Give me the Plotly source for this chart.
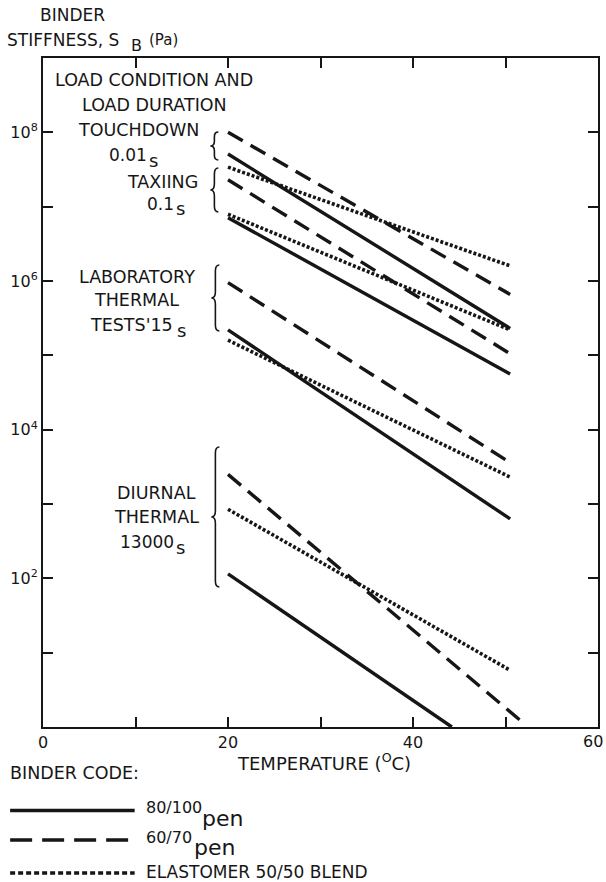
import plotly.graph_objects as go

# ---------------- data ----------------
load_cases = ["TOUCHDOWN 0.01 s", "TAXIING 0.1 s",
              "LABORATORY THERMAL TESTS 15 s", "DIURNAL THERMAL 13000 s"]
temp_start = 20.0

# 80/100 pen (solid)
pen80_temp_end = [50.5, 50.5, 50.5, 44.2]
pen80_sb_start = [5.1e7, 7.1e6, 2.2e5, 115.0]
pen80_sb_end = [2.3e5, 5.6e4, 630.0, 1.0]

# 60/70 pen (dashed)
pen60_temp_end = [50.5, 50.5, 50.5, 51.7]
pen60_sb_start = [1.0e8, 2.3e7, 9.5e5, 2.5e3]
pen60_sb_end = [6.6e5, 1.05e5, 3.6e3, 1.2]

# Elastomer 50/50 blend (dotted)
elast_temp_end = [50.5, 50.5, 50.5, 50.5]
elast_sb_start = [3.4e7, 7.9e6, 1.6e5, 850.0]
elast_sb_end = [1.6e6, 2.2e5, 2.3e3, 5.8]

x_tick_vals = [0, 10, 20, 30, 40, 50, 60]
x_tick_text = ["0", "", "20", "", "40", "", ""]
y_tick_vals = [1e1, 1e2, 1e3, 1e4, 1e5, 1e6, 1e7, 1e8]
y_tick_text = ["", "10<sup>2</sup>", "", "10<sup>4</sup>", "",
               "10<sup>6</sup>", "", "10<sup>8</sup>"]

# ---------------- layout geometry ----------------
W, H = 606, 882
PL, PR, PT, PB = 43, 600, 58, 727
FONT = "DejaVu Sans"
INK = "#161616"


def X(p):
    return (p - PL) / (PR - PL)


def Y(p):
    return (PB - p) / (PB - PT)


fig = go.Figure()

styles = [
    ("80/100 pen", pen80_temp_end, pen80_sb_start, pen80_sb_end, "solid", 3.4),
    ("60/70 pen", pen60_temp_end, pen60_sb_start, pen60_sb_end, "17px,9px", 3.4),
    ("ELASTOMER 50/50 BLEND", elast_temp_end, elast_sb_start, elast_sb_end, "3px,2px", 3.6),
]
for name, tend, s0, s1, dash, w in styles:
    for i, case in enumerate(load_cases):
        fig.add_trace(go.Scatter(
            x=[temp_start, tend[i]], y=[s0[i], s1[i]],
            mode="lines", name=f"{name} – {case}", showlegend=False,
            line=dict(color=INK, width=w, dash=dash),
            hoverinfo="skip"))

fig.update_xaxes(range=[0, 60], tickmode="array", tickvals=x_tick_vals,
                 ticktext=x_tick_text, ticks="inside", ticklen=10, tickwidth=2,
                 tickcolor=INK, showline=True, linecolor=INK, linewidth=2,
                 mirror="ticks", showgrid=False, zeroline=False,
                 tickfont=dict(family=FONT, size=16, color=INK))
fig.update_yaxes(type="log", range=[0, 9], tickmode="array",
                 tickvals=y_tick_vals, ticktext=y_tick_text, ticks="inside",
                 ticklen=10, tickwidth=2, tickcolor=INK, showline=True,
                 linecolor=INK, linewidth=2, mirror="ticks", showgrid=False,
                 zeroline=False, tickfont=dict(family=FONT, size=16, color=INK))

ann = []


def text(t, xp, yp, size=17.5, anchor="center"):
    ann.append(dict(text=t, x=X(xp), y=Y(yp), xref="paper", yref="paper",
                    xanchor=anchor, yanchor="middle", showarrow=False,
                    borderpad=0, borderwidth=0,
                    font=dict(family=FONT, size=size, color=INK)))


# y-axis title
text("BINDER", 40, 15, 17, "left")
text("STIFFNESS, S", 7, 40, 17, "left")
text("B", 131, 46, 16, "left")
text("(Pa)", 149, 40, 15, "left")

# load condition labels
text("LOAD CONDITION AND", 154, 80)
text("LOAD DURATION", 155, 105)
text("TOUCHDOWN", 139, 130)
text("0.01", 147, 155, 17, "right")
text("s", 149, 160, 18, "left")
text("TAXIING", 163, 182)
text("0.1", 174, 204, 17, "right")
text("s", 176, 209, 18, "left")
text("LABORATORY", 137, 277)
text("THERMAL", 137, 300)
text("TESTS'15", 173, 325, 17.5, "right")
text("s", 177, 330, 18, "left")
text("DIURNAL", 157, 493)
text("THERMAL", 157, 517)
text("13000", 174, 542, 17, "right")
text("s", 176, 547, 18, "left")

# x axis
text("60", 595, 741, 16)
text("TEMPERATURE (<sup>O</sup>C)", 325, 762, 18)

# legend
text("BINDER CODE:", 10, 773, 17.5, "left")
text("80/100", 146, 808, 16, "left")
text("pen", 203, 818, 22, "left")
text("60/70", 146, 837, 16, "left")
text("pen", 195, 847, 22, "left")
text("ELASTOMER 50/50 BLEND", 146, 872, 17, "left")

shapes = []


def brace(xs, top, bot):
    mid = (top + bot) / 2
    h = min(6, (bot - top) / 6)
    pts = (f"M {X(xs+4)},{Y(top)} Q {X(xs)},{Y(top)} {X(xs)},{Y(top+h)} "
           f"L {X(xs)},{Y(mid-h)} Q {X(xs)},{Y(mid)} {X(xs-4)},{Y(mid)} "
           f"Q {X(xs)},{Y(mid)} {X(xs)},{Y(mid+h)} L {X(xs)},{Y(bot-h)} "
           f"Q {X(xs)},{Y(bot)} {X(xs+4)},{Y(bot)}")
    shapes.append(dict(type="path", path=pts, xref="paper", yref="paper",
                       line=dict(color=INK, width=1.6)))


brace(215, 132, 160)
brace(215, 168, 212)
brace(216, 265, 331)
brace(216, 447, 587)

for yp, dash in [(810.5, "solid"), (840, "22px,10px"), (873, "5px,3px")]:
    shapes.append(dict(type="line", xref="paper", yref="paper",
                       x0=X(10), x1=X(135), y0=Y(yp), y1=Y(yp),
                       line=dict(color=INK, width=3.4, dash=dash)))

fig.update_layout(width=W, height=H, margin=dict(l=PL, r=W - PR, t=PT, b=H - PB),
                  paper_bgcolor="white", plot_bgcolor="white",
                  annotations=ann, shapes=shapes, showlegend=False)

fig.write_html("out.html")
